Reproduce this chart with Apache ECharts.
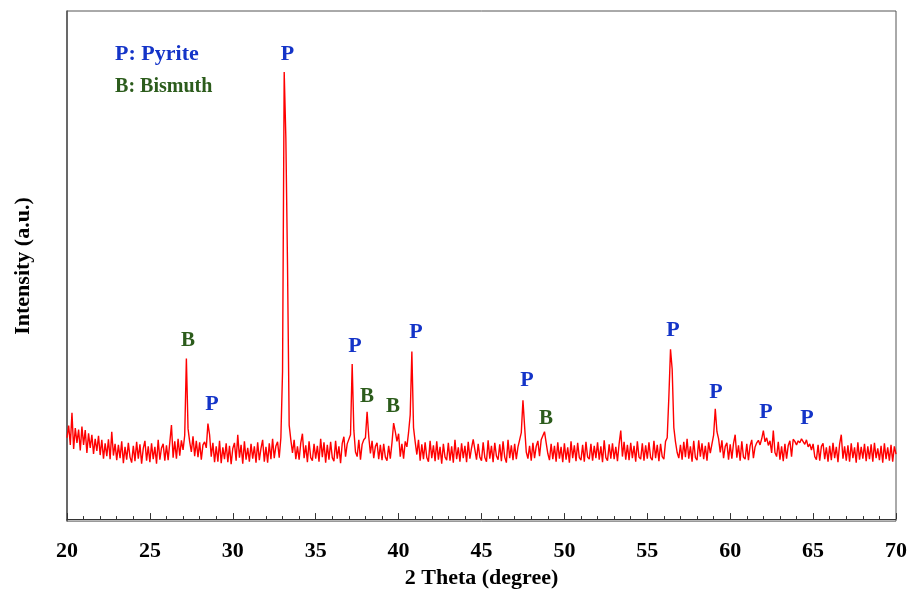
<!DOCTYPE html>
<html>
<head>
<meta charset="utf-8">
<title>XRD</title>
<script src="https://cdn.jsdelivr.net/npm/echarts@6/dist/echarts.min.js"></script>
<style>
  html, body { margin: 0; padding: 0; background: #fff; }
  #xrd { width: 911px; height: 594px; }
</style>
</head>
<body>
<!-- 图表容器 -->
<div id="xrd"></div>
<script>
// 2θ scan: start, step (degree)
const thetaStart = 20
const thetaStep = 0.1
// intensity, one row per degree (20.0 ... 69.9, then 70.0)
const intensity = [
  16.0, 18.4, 14.6, 20.9, 13.8, 17.9, 15.0, 17.6, 13.5, 18.2,
  14.6, 17.5, 13.0, 16.9, 14.0, 16.6, 12.8, 15.8, 13.4, 16.4,
  12.6, 15.6, 11.9, 14.9, 12.4, 15.7, 11.8, 17.2, 12.5, 14.8,
  11.6, 14.6, 12.0, 15.3, 11.0, 14.2, 11.7, 15.0, 12.2, 11.1,
  14.4, 11.4, 15.2, 11.9, 14.7, 10.9, 13.9, 15.4, 11.5, 14.3,
  11.2, 14.9, 11.8, 14.2, 10.9, 15.6, 11.7, 14.0, 14.8, 11.5,
  14.5, 11.6, 15.1, 18.5, 12.1, 15.3, 11.9, 15.8, 12.5, 15.5,
  13.6, 16.5, 31.6, 17.8, 15.2, 13.2, 16.3, 12.4, 15.4, 12.2,
  15.1, 11.7, 14.6, 15.2, 14.0, 18.8, 16.6, 12.3, 15.0, 11.2,
  14.3, 11.3, 15.4, 11.0, 14.1, 11.8, 14.9, 11.2, 14.4, 10.8,
  13.9, 15.0, 11.5, 16.6, 12.1, 14.6, 10.9, 15.3, 11.7, 14.0,
  11.3, 14.8, 11.9, 14.3, 11.1, 15.1, 11.6, 13.9, 15.6, 11.3,
  14.2, 11.1, 14.9, 11.8, 15.8, 12.0, 14.4, 15.2, 12.1, 16.0,
  29.0, 88.0, 75.0, 50.0, 18.5, 15.6, 13.0, 15.6, 11.8, 14.3,
  11.7, 15.0, 16.8, 12.0, 14.5, 11.2, 15.3, 12.1, 11.5, 14.8,
  11.9, 14.4, 11.3, 15.8, 12.2, 15.1, 11.1, 14.6, 11.7, 15.2,
  12.1, 11.4, 15.4, 11.9, 14.3, 11.0, 14.9, 16.2, 12.3, 14.8,
  15.0, 16.6, 30.5, 17.5, 13.2, 12.3, 15.6, 11.7, 14.7, 15.6,
  16.0, 21.1, 16.2, 12.9, 15.4, 12.0, 14.3, 15.0, 11.8, 14.6,
  11.6, 14.8, 12.2, 11.5, 14.4, 11.9, 15.0, 18.9, 17.2, 15.3,
  16.8, 12.3, 14.8, 11.9, 15.3, 14.2, 17.0, 20.5, 33.0, 18.0,
  15.2, 12.7, 15.6, 11.5, 14.7, 11.8, 15.1, 12.1, 11.3, 15.4,
  12.0, 14.5, 11.4, 15.3, 11.7, 14.2, 10.9, 14.8, 12.2, 11.6,
  15.0, 11.5, 14.3, 11.1, 15.6, 11.8, 14.1, 11.3, 14.9, 12.0,
  14.4, 11.2, 15.2, 11.9, 14.0, 15.7, 15.8, 11.7, 14.8, 12.2,
  11.5, 15.1, 12.1, 11.3, 15.5, 11.9, 14.4, 11.2, 15.0, 12.4,
  11.7, 14.7, 11.4, 15.3, 12.2, 11.1, 15.6, 12.0, 14.5, 11.6,
  14.8, 11.8, 14.2, 15.6, 17.0, 23.4, 18.2, 13.2, 11.9, 14.4,
  11.5, 15.0, 12.0, 14.3, 15.4, 12.4, 15.6, 15.6, 17.2, 15.0,
  12.9, 11.6, 14.8, 11.8, 14.4, 11.3, 15.1, 11.9, 14.2, 11.2,
  14.9, 11.7, 14.1, 11.1, 15.3, 12.0, 14.5, 11.4, 15.0, 12.1,
  11.6, 14.6, 11.3, 15.2, 12.2, 11.8, 14.8, 11.5, 14.4, 12.0,
  15.1, 11.7, 14.3, 11.2, 15.5, 12.1, 11.5, 14.7, 11.9, 14.9,
  11.8, 14.2, 11.4, 14.8, 17.4, 12.3, 15.2, 11.7, 14.6, 11.6,
  15.0, 12.0, 14.4, 11.3, 15.3, 12.2, 11.8, 14.9, 11.5, 14.5,
  11.9, 15.1, 12.1, 11.6, 15.4, 12.0, 14.6, 11.4, 14.8, 12.3,
  11.8, 15.3, 16.0, 24.0, 33.4, 29.5, 18.0, 15.2, 13.1, 12.0,
  14.6, 11.7, 15.2, 12.2, 15.8, 11.9, 14.3, 11.3, 15.4, 12.1,
  11.6, 15.5, 12.3, 14.9, 11.8, 14.4, 11.5, 15.1, 13.0, 14.8,
  16.5, 21.7, 17.2, 15.8, 13.1, 15.5, 12.0, 14.3, 15.0, 11.7,
  14.7, 11.9, 14.9, 16.6, 12.1, 14.5, 11.5, 15.3, 12.2, 11.8,
  14.8, 11.6, 14.4, 15.6, 12.0, 14.2, 15.0, 15.5, 14.6, 15.8,
  17.4, 15.2, 16.0, 14.5, 15.4, 13.0, 17.4, 13.1, 12.3, 15.2,
  11.7, 14.3, 11.4, 14.8, 11.9, 14.5, 15.4, 12.3, 15.7, 15.3,
  14.6, 15.4, 15.0, 15.8, 15.5, 14.7, 15.6, 14.2, 14.8, 13.6,
  14.8, 12.3, 11.7, 14.6, 11.5, 14.3, 14.9, 11.8, 14.1, 11.3,
  14.4, 11.6, 15.0, 12.0, 14.2, 11.2, 14.8, 16.6, 11.9, 14.3,
  11.5, 14.5, 11.3, 14.9, 12.0, 14.1, 11.1, 15.1, 11.7, 14.2,
  11.9, 14.8, 11.4, 14.3, 11.8, 14.7, 11.3, 15.0, 12.0, 13.9,
  11.6, 14.4, 11.1, 14.9, 11.8, 14.1, 11.5, 14.6, 11.3, 14.3,
  12.8
]
// peak marks (P = pyrite, B = bismuth) and where their letters sit
const peakText = ['B', 'P', 'P', 'P', 'B', 'B', 'P', 'P', 'B', 'P', 'P', 'P', 'P']
const peakTheta = [27.3, 28.75, 33.3, 37.37, 38.09, 39.66, 41.05, 47.74, 48.89, 56.55, 59.14, 62.16, 64.63]
const peakLevel = [35.2, 22.5, 91.4, 34.0, 24.2, 22.1, 36.7, 27.3, 19.7, 37.1, 25.0, 21.1, 19.9]
// key in the top-left corner
const keyText = ['P: Pyrite', 'B: Bismuth']
const keyTheta = [22.9, 22.9]
const keyLevel = [91.4, 85.1]
const xTicks = [20, 25, 30, 35, 40, 45, 50, 55, 60, 65, 70]

const blue = '#1434c8'
const green = '#2c5c1c'
const serif = "'Times New Roman', 'Liberation Serif', serif"

let charts = echarts.init(document.getElementById('xrd'))

let lineData = intensity.map(function (v, i) {
  return [+(thetaStart + i * thetaStep).toFixed(2), v]
})
let peakData = peakText.map(function (t, i) {
  return {
    value: [peakTheta[i], peakLevel[i]],
    label: { formatter: t, color: t === 'P' ? blue : green, fontSize: t === 'P' ? 22 : 21 }
  }
})
let keyData = keyText.map(function (t, i) {
  return {
    value: [keyTheta[i], keyLevel[i]],
    label: { formatter: t, color: i === 0 ? blue : green, fontSize: i === 0 ? 22 : 20 }
  }
})

let options = {
  animation: false,
  grid: {
    top: 11,
    bottom: 69,
    left: 67,
    right: 15,
    show: true,
    borderColor: '#555',
    borderWidth: 1
  },
  xAxis: {
    type: 'value',
    min: xTicks[0],
    max: xTicks[xTicks.length - 1],
    interval: 5,
    name: '2 Theta (degree)',
    nameLocation: 'middle',
    nameGap: 45,
    nameTextStyle: { fontFamily: serif, fontWeight: 'bold', fontSize: 22, color: '#000' },
    axisLine: { lineStyle: { color: '#333', width: 1 } },
    axisTick: { inside: true, length: 6, lineStyle: { color: '#333' } },
    minorTick: { show: true, splitNumber: 5, length: 3, lineStyle: { color: '#333' } },
    splitLine: { show: false },
    minorSplitLine: { show: false },
    axisLabel: { fontFamily: serif, fontWeight: 'bold', fontSize: 22, color: '#000', margin: 19 }
  },
  yAxis: {
    type: 'value',
    min: -0.4,
    max: 100,
    name: 'Intensity (a.u.)',
    nameLocation: 'middle',
    nameGap: 33,
    nameTextStyle: { fontFamily: serif, fontWeight: 'bold', fontSize: 22, color: '#000' },
    axisLine: { show: true, lineStyle: { color: '#555', width: 1.5 } },
    axisTick: { show: false },
    axisLabel: { show: false },
    splitLine: { show: false }
  },
  series: [{
    name: 'XRD',
    type: 'line',
    data: lineData,
    showSymbol: false,
    lineStyle: { color: '#ff0000', width: 1.4 },
    z: 2
  }, {
    name: 'peaks',
    type: 'scatter',
    data: peakData,
    symbolSize: 0,
    itemStyle: { opacity: 1 },
    label: {
      show: true,
      position: 'inside',
      fontFamily: serif,
      fontWeight: 'bold',
      textBorderWidth: 0
    },
    z: 3
  }, {
    name: 'key',
    type: 'scatter',
    data: keyData,
    symbolSize: 0,
    itemStyle: { opacity: 1 },
    label: {
      show: true,
      position: 'inside',
      align: 'left',
      fontFamily: serif,
      fontWeight: 'bold',
      textBorderWidth: 0
    },
    z: 3
  }]
}
charts.setOption(options)
</script>
</body>
</html>
